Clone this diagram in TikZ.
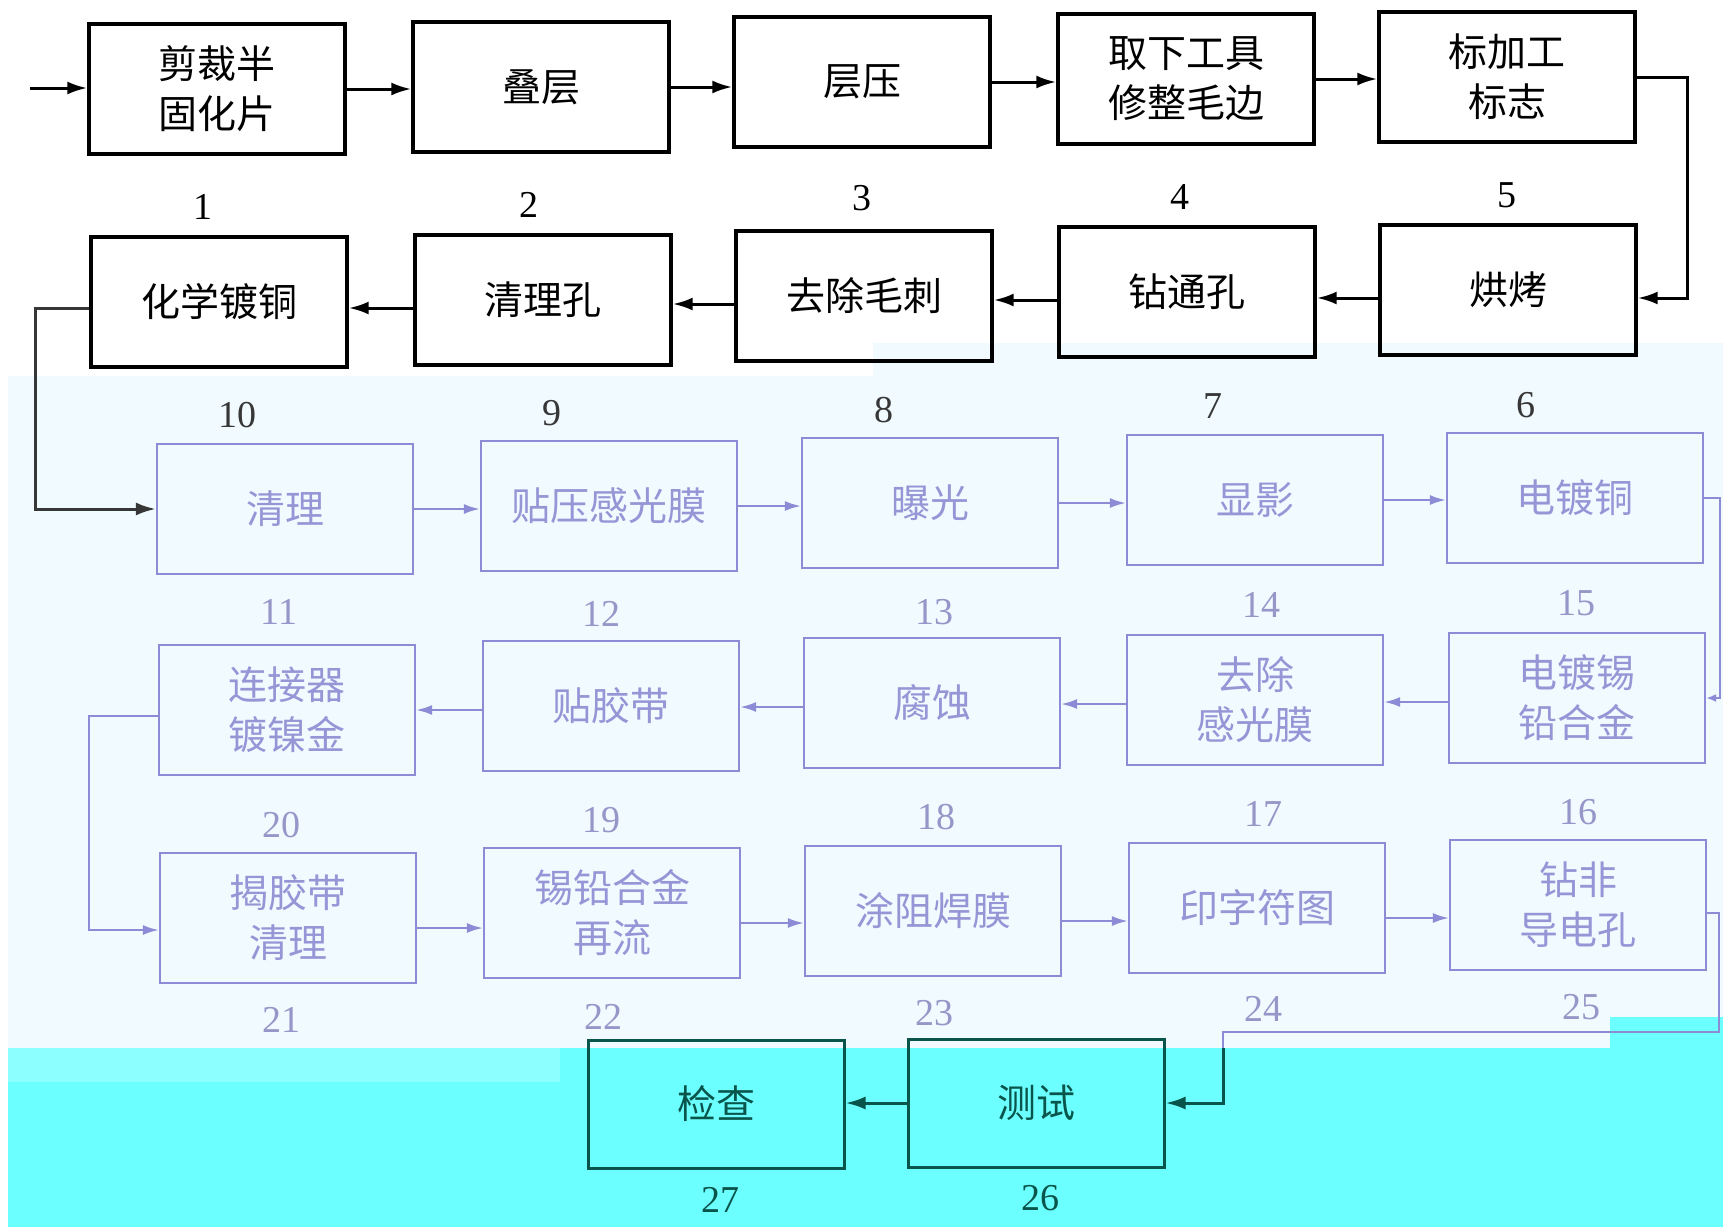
\documentclass[tikz,border=0pt]{standalone}
\usepackage{fontspec}
\setmainfont{Liberation Serif}
\newfontfamily\cjk{Noto Sans CJK SC}
\usetikzlibrary{arrows.meta}
\definecolor{pale}{RGB}{240,250,255}
\definecolor{cyanbg}{RGB}{108,255,255}
\definecolor{cyanlt}{RGB}{140,255,255}
\definecolor{lav}{RGB}{140,140,214}
\definecolor{lavtxt}{RGB}{150,150,215}
\definecolor{lavnum}{RGB}{150,150,200}
\definecolor{tealdk}{RGB}{10,85,75}
\definecolor{dgray}{RGB}{55,55,55}
\begin{document}
\begin{tikzpicture}[x=0.5pt,y=-0.5pt,
  box/.style={draw, line width=1.7pt, minimum width=128pt, minimum height=65pt,
    inner sep=0pt, align=center, font=\cjk\fontsize{19.5pt}{25pt}\selectfont},
  lbox/.style={box, draw=lav, text=lavtxt, line width=1.1pt},
  tbox/.style={box, draw=tealdk, text=tealdk, line width=1.5pt, minimum height=64pt},
  num/.style={font=\fontsize{19pt}{19pt}\selectfont, inner sep=0pt},
  arr/.style={line width=1.5pt, -{Latex[length=10pt,width=6.5pt]}},
  larr/.style={line width=1.1pt, draw=lav, -{Latex[length=8pt,width=5pt]}},
  tarr/.style={line width=1.5pt, draw=tealdk, -{Latex[length=10pt,width=6.5pt]}}]
\useasboundingbox (0,0) rectangle (1723,1227);
% background bands
\fill[white] (0,0) rectangle (1723,1227);
\fill[pale] (8,376) -- (873,376) -- (873,343) -- (1723,343) -- (1723,1048) -- (8,1048) -- cycle;
\fill[cyanbg] (8,1048) rectangle (1723,1227);
\fill[cyanlt] (8,1048) rectangle (560,1082);
\fill[cyanbg] (1610,1017) rectangle (1723,1048);

% row 1
\node[box] (b1) at (217,89) {剪裁半\\固化片};
\node[box] (b2) at (541,87) {叠层};
\node[box] (b3) at (862,82) {层压};
\node[box] (b4) at (1186,79) {取下工具\\修整毛边};
\node[box] (b5) at (1507,77) {标加工\\标志};
\node[num] (n1) at (203,207) {1};
\node[num] (n2) at (529,205) {2};
\node[num] (n3) at (862,198) {3};
\node[num] (n4) at (1180,197) {4};
\node[num] (n5) at (1507,195) {5};

% row 2
\node[box] (b10) at (219,302) {化学镀铜};
\node[box] (b9) at (543,300) {清理孔};
\node[box] (b8) at (864,296) {去除毛刺};
\node[box] (b7) at (1187,292) {钻通孔};
\node[box] (b6) at (1508,290) {烘烤};
\node[num, text=dgray] (n10) at (237,415) {10};
\node[num, text=dgray] (n9) at (552,413) {9};
\node[num, text=dgray] (n8) at (884,410) {8};
\node[num, text=dgray] (n7) at (1213,406) {7};
\node[num, text=dgray] (n6) at (1526,405) {6};

% row 3
\node[lbox] (b11) at (285,509) {清理};
\node[lbox] (b12) at (609,506) {贴压感光膜};
\node[lbox] (b13) at (930,503) {曝光};
\node[lbox] (b14) at (1255,500) {显影};
\node[lbox] (b15) at (1575,498) {电镀铜};
\node[num, text=lavnum] (n11) at (279,612) {11};
\node[num, text=lavnum] (n12) at (601,614) {12};
\node[num, text=lavnum] (n13) at (934,612) {13};
\node[num, text=lavnum] (n14) at (1261,605) {14};
\node[num, text=lavnum] (n15) at (1576,603) {15};

% row 4
\node[lbox] (b20) at (287,710) {连接器\\镀镍金};
\node[lbox] (b19) at (611,706) {贴胶带};
\node[lbox] (b18) at (932,703) {腐蚀};
\node[lbox] (b17) at (1255,700) {去除\\感光膜};
\node[lbox] (b16) at (1577,698) {电镀锡\\铅合金};
\node[num, text=lavnum] (n20) at (281,825) {20};
\node[num, text=lavnum] (n19) at (601,820) {19};
\node[num, text=lavnum] (n18) at (936,817) {18};
\node[num, text=lavnum] (n17) at (1263,814) {17};
\node[num, text=lavnum] (n16) at (1578,812) {16};

% row 5
\node[lbox] (b21) at (288,918) {揭胶带\\清理};
\node[lbox] (b22) at (612,913) {锡铅合金\\再流};
\node[lbox] (b23) at (933,911) {涂阻焊膜};
\node[lbox] (b24) at (1257,908) {印字符图};
\node[lbox] (b25) at (1578,905) {钻非\\导电孔};
\node[num, text=lavnum] (n21) at (281,1020) {21};
\node[num, text=lavnum] (n22) at (603,1017) {22};
\node[num, text=lavnum] (n23) at (934,1013) {23};
\node[num, text=lavnum] (n24) at (1263,1009) {24};
\node[num, text=lavnum] (n25) at (1581,1007) {25};

% row 6
\node[tbox] (b27) at (716,1104) {检查};
\node[tbox] (b26) at (1036,1103) {测试};
\node[num, text=tealdk] (n27) at (720,1200) {27};
\node[num, text=tealdk] (n26) at (1040,1198) {26};

% connectors row 1
\coordinate (start) at (30,88);
\draw[arr] (start) -- (start -| b1.west);
\draw[arr] (b1.east) -- (b1.east -| b2.west);
\draw[arr] (b2.east) -- (b2.east -| b3.west);
\draw[arr] (b3.east) -- (b3.east -| b4.west);
\draw[arr] (b4.east) -- (b4.east -| b5.west);
\draw[arr] (b5.east) -- ++(51,0) |- ([yshift=-4pt]b6.east);
% row 2
\draw[arr] ([yshift=-4pt]b6.west) -- ([yshift=-4pt]b6.west -| b7.east);
\draw[arr] ([yshift=-4pt]b7.west) -- ([yshift=-4pt]b7.west -| b8.east);
\draw[arr] ([yshift=-4pt]b8.west) -- ([yshift=-4pt]b8.west -| b9.east);
\draw[arr] ([yshift=-4pt]b9.west) -- ([yshift=-4pt]b9.west -| b10.east);
\draw[arr, draw=dgray] ([yshift=-3pt]b10.west) -- ++(-54,0) |- (b11.west);
% row 3
\draw[larr] (b11.east) -- (b11.east -| b12.west);
\draw[larr] (b12.east) -- (b12.east -| b13.west);
\draw[larr] (b13.east) -- (b13.east -| b14.west);
\draw[larr] (b14.east) -- (b14.east -| b15.west);
\draw[larr, -{Latex[length=5pt,width=4pt]}] (b15.east) -- ++(16,0) |- (b16.east);
% row 4
\draw[larr] ([yshift=-2pt]b16.west) -- ([yshift=-2pt]b16.west -| b17.east);
\draw[larr] ([yshift=-2pt]b17.west) -- ([yshift=-2pt]b17.west -| b18.east);
\draw[larr] ([yshift=-2pt]b18.west) -- ([yshift=-2pt]b18.west -| b19.east);
\draw[larr] ([yshift=-2pt]b19.west) -- ([yshift=-2pt]b19.west -| b20.east);
\draw[larr] ([yshift=-3pt]b20.west) -- ++(-69,0) |- ([yshift=-6pt]b21.west);
% row 5
\draw[larr] ([yshift=-5pt]b21.east) -- ([yshift=-5pt]b21.east -| b22.west);
\draw[larr] ([yshift=-5pt]b22.east) -- ([yshift=-5pt]b22.east -| b23.west);
\draw[larr] ([yshift=-5pt]b23.east) -- ([yshift=-5pt]b23.east -| b24.west);
\draw[larr] ([yshift=-5pt]b24.east) -- ([yshift=-5pt]b24.east -| b25.west);
\coordinate (j) at (1223,1048);
\draw[lav, line width=1.1pt] ([yshift=-4pt]b25.east) -- ++(12,0) |- (1223,1032) -- (j);
\draw[tarr] (j) |- (b26.east);
% row 6
\draw[tarr] (b26.west) -- (b26.west -| b27.east);
\end{tikzpicture}
\end{document}
